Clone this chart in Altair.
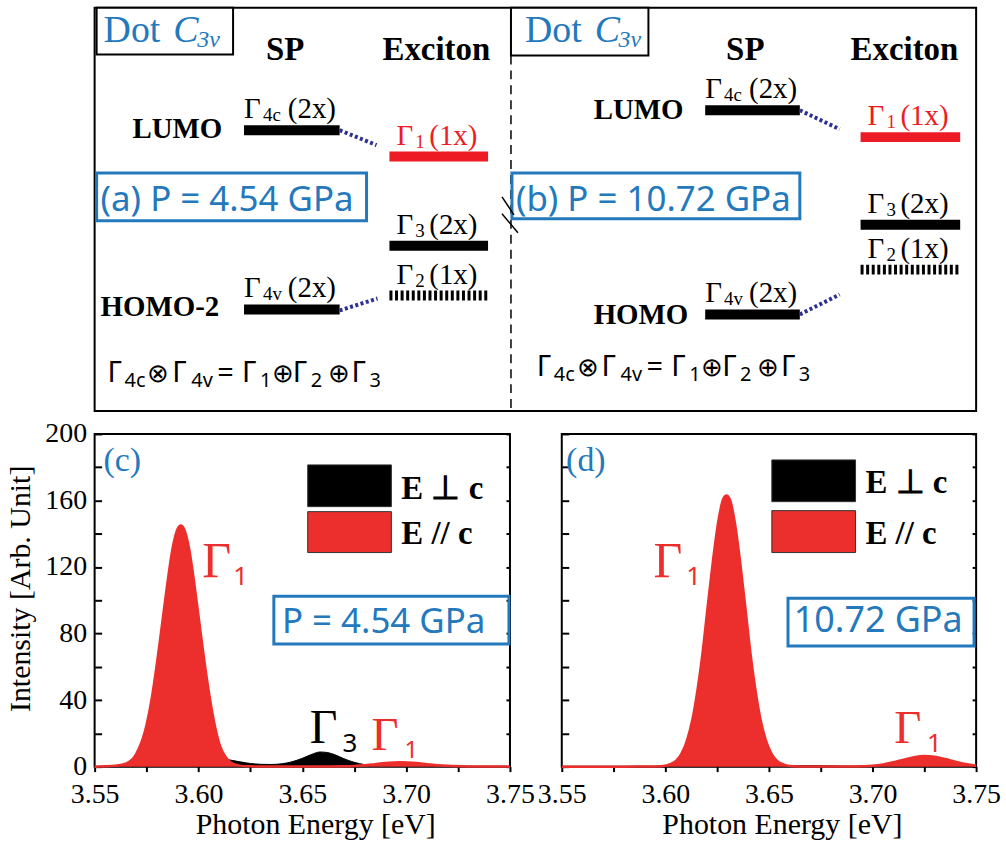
import altair as alt
import pandas as pd

SERIF = "Liberation Serif"
SANS = "Noto Sans"
BLUE = "#2479bd"
RED = "#ec2f2c"
DRED = "#ed1c24"
NAVY = "#2e3192"
INK = "black"

# ================= spectra =================
# (c) P = 4.54 GPa
c_par_E = [3.55, 3.555, 3.56, 3.565, 3.57, 3.575, 3.5775, 3.58, 3.5825, 3.585, 3.5875, 3.59, 3.5915,
           3.593, 3.5955, 3.598, 3.6005, 3.603, 3.6055, 3.608, 3.6105, 3.613, 3.6155, 3.62, 3.625, 3.63,
           3.64, 3.65, 3.66, 3.67, 3.675, 3.68, 3.685, 3.69, 3.697, 3.705, 3.71, 3.715, 3.72, 3.73, 3.74, 3.75]
c_par_I = [0, 0.2, 0.6, 1.8, 7.5, 25, 41, 62, 86, 110, 131, 143, 145,
           143, 131, 110, 86, 62, 41, 24, 12, 6, 2.5, 0.6, 0.2, 0.1,
           0.05, 0.05, 0.1, 0.2, 0.4, 0.8, 1.5, 2.2, 2.7, 2.2, 1.5, 0.9, 0.5, 0.15, 0.05, 0]
c_perp_E = [3.55, 3.57, 3.58, 3.59, 3.60, 3.605, 3.61, 3.613, 3.616, 3.62, 3.625, 3.63, 3.635, 3.64,
            3.645, 3.65, 3.655, 3.6585, 3.662, 3.666, 3.67, 3.675, 3.68, 3.685, 3.69, 3.70, 3.72, 3.75]
c_perp_I = [0, 0, 1, 3, 4.5, 5, 4.8, 4.4, 3.8, 2.9, 1.9, 1.4, 1.3, 1.7,
            2.9, 5.0, 7.6, 8.8, 8.5, 7.0, 4.8, 2.6, 1.2, 0.6, 0.3, 0.15, 0.05, 0]
# (d) P = 10.72 GPa
d_par_E = [3.55, 3.58, 3.59, 3.598, 3.603, 3.6055, 3.608, 3.6105, 3.613, 3.6155, 3.618, 3.6205, 3.623,
           3.6255, 3.628, 3.6295, 3.631, 3.6335, 3.636, 3.6385, 3.641, 3.6435, 3.646, 3.6485, 3.651,
           3.6535, 3.656, 3.661, 3.67, 3.68, 3.69, 3.695, 3.70, 3.705, 3.71, 3.715, 3.72, 3.725, 3.73,
           3.735, 3.74, 3.745, 3.75]
d_par_I = [0, 0, 0.05, 0.3, 1.8, 3.9, 8.3, 16, 28, 46, 69, 97, 124,
           147, 161, 163, 161, 147, 124, 97, 69, 46, 28, 16, 8.3,
           3.9, 1.8, 0.3, 0.1, 0.1, 0.1, 0.2, 0.5, 1.3, 2.6, 4.2, 5.7, 6.4, 5.9,
           4.6, 3.0, 1.6, 0.6]
d_perp_E = [3.55, 3.65, 3.66, 3.67, 3.68, 3.69, 3.75]
d_perp_I = [0, 0, 0.5, 0.6, 0.4, 0.1, 0]

x_ticks = [3.55, 3.575, 3.6, 3.625, 3.65, 3.675, 3.7, 3.725, 3.75]
x_labels = ["3.55", "3.60", "3.65", "3.70", "3.75"]
y_ticks = list(range(0, 201, 20))

# ================= schematic level diagram (a)/(b) =================
lev_x1 = [244, 390, 390, 390, 244, 707, 863, 863, 863, 707]
lev_x2 = [340, 489, 489, 489, 340, 802, 963, 963, 963, 802]
lev_y = [128, 154.5, 244, 294, 308, 108, 135, 223, 268, 313]
lev_kind = ["solid", "red", "solid", "hatch", "solid", "solid", "red", "solid", "hatch", "solid"]
lev_gx = [244, 397, 397, 397, 244, 707, 870, 870, 870, 707]
lev_sub = ["4c", "1", "3", "2", "4v", "4c", "1", "3", "2", "4v"]
lev_tail = ["(2x)", "(1x)", "(2x)", "(1x)", "(2x)", "(2x)", "(1x)", "(2x)", "(1x)", "(2x)"]

link_x1 = [340, 340, 802, 802]
link_y1 = [128, 309, 108, 313]
link_x2 = [377, 378, 842, 842]
link_y2 = [143, 297, 127, 293]

orb_names = ["LUMO", "HOMO-2", "LUMO", "HOMO"]
orb_x = [132, 100, 595, 595]
orb_y = [136, 315, 117, 323]
head_names = ["SP", "Exciton", "SP", "Exciton"]
head_x = [266, 383, 728, 853]

eq_pieces = ["Γ", "4c", "⊗", "Γ", "4v", "=", "Γ", "1", "⊕", "Γ", "2", "⊕", "Γ", "3"]
eq_dx = [0, 17, 40, 65, 84, 110, 135, 153, 165, 186, 204, 221, 245, 263]
eq_kind = ["m", "s", "o", "m", "s", "m", "m", "s", "o", "m", "s", "o", "m", "s"]
eq_x0 = [107, 538]
eq_y0 = [381, 375]

dot_x = [103, 526]
dot_box_x1 = [96, 512]
dot_box_x2 = [233, 650]
p_box_x1 = [96, 513]
p_box_x2 = [367, 802]
p_texts = ["(a) P = 4.54 GPa", "(b) P = 10.72 GPa"]

# ---------------- build diagram tables ----------------
XS = alt.Scale(domain=[94, 979], nice=False, zero=False)
YS = alt.Scale(domain=[5, 410], nice=False, zero=False, reverse=True)

serif_rows, bold_rows, ital_rows, sans_rows = [], [], [], []
for i in range(len(lev_gx)):
    col = DRED if lev_kind[i] == "red" else INK
    base = lev_y[i] - 12
    serif_rows.append((lev_gx[i], base, "Γ", 29, col))
    serif_rows.append((lev_gx[i] + 19, base + 3, lev_sub[i], 19, col))
    serif_rows.append((lev_gx[i] + (44 if len(lev_sub[i]) == 2 else 33), base, lev_tail[i], 29, col))
for k in range(4):
    bold_rows.append((orb_x[k], orb_y[k], orb_names[k], 29, INK))
    bold_rows.append((head_x[k], 58, head_names[k], 33, INK))
eq_size = {"m": 29, "s": 20, "o": 26}
eq_drop = {"m": 0, "s": 5, "o": 0}
for k in range(2):
    for p, dx, kd in zip(eq_pieces, eq_dx, eq_kind):
        sans_rows.append((eq_x0[k] + dx, eq_y0[k] + eq_drop[kd], p, eq_size[kd], INK))
    sans_rows.append((p_box_x1[k] + 4, 209, p_texts[k], 35, BLUE))
    serif_rows.append((dot_x[k], 39, "Dot", 38, BLUE))
    ital_rows.append((dot_x[k] + 70, 39, "C", 38, BLUE))
    ital_rows.append((dot_x[k] + 94, 45, "3v", 24, BLUE))


def tdf(rows):
    return pd.DataFrame(rows, columns=["x", "y", "t", "s", "c"])


def text_layer(df, font, weight="normal", style="normal", xs=XS, ys=YS):
    return alt.Chart(df).mark_text(font=font, fontWeight=weight, fontStyle=style,
                                   align="left", baseline="alphabetic").encode(
        x=alt.X("x:Q", scale=xs, axis=None),
        y=alt.Y("y:Q", scale=ys, axis=None),
        text="t:N",
        size=alt.Size("s:Q", scale=None),
        color=alt.Color("c:N", scale=None))


def seg_layer(df, **mk):
    return alt.Chart(df).mark_rule(**mk).encode(
        x=alt.X("x1:Q", scale=XS, axis=None), x2="x2:Q",
        y=alt.Y("y1:Q", scale=YS, axis=None), y2="y2:Q")


levels = pd.DataFrame({"x1": lev_x1, "x2": lev_x2, "y1": lev_y, "y2": lev_y, "kind": lev_kind})
lev_solid = alt.Chart(levels).transform_filter("datum.kind != 'hatch'").transform_calculate(
    c=f"datum.kind == 'red' ? '{DRED}' : '{INK}'").mark_rule(strokeWidth=10).encode(
    x=alt.X("x1:Q", scale=XS, axis=None), x2="x2:Q",
    y=alt.Y("y1:Q", scale=YS, axis=None), color=alt.Color("c:N", scale=None))
lev_hatch = alt.Chart(levels).transform_filter("datum.kind == 'hatch'").mark_rule(
    strokeWidth=10, strokeDash=[3, 2.6], color=INK).encode(
    x=alt.X("x1:Q", scale=XS, axis=None), x2="x2:Q", y=alt.Y("y1:Q", scale=YS, axis=None))

links = seg_layer(pd.DataFrame({"x1": link_x1, "y1": link_y1, "x2": link_x2, "y2": link_y2}),
                  strokeWidth=4, strokeDash=[3, 2.5], color=NAVY)
divider = seg_layer(pd.DataFrame({"x1": [512], "y1": [53], "x2": [512], "y2": [410]}),
                    strokeWidth=1.5, strokeDash=[9, 6], color=INK)
breaks = seg_layer(pd.DataFrame({"x1": [503, 503], "y1": [195, 212], "x2": [515, 519], "y2": [213, 231]}),
                   strokeWidth=1.5, color=INK)

dot_boxes = alt.Chart(pd.DataFrame({"x1": dot_box_x1, "x2": dot_box_x2, "y1": [5, 5], "y2": [52, 53]})).mark_rect(
    fill="white", stroke=INK, strokeWidth=2).encode(
    x=alt.X("x1:Q", scale=XS, axis=None), x2="x2:Q", y=alt.Y("y1:Q", scale=YS, axis=None), y2="y2:Q")
p_boxes = alt.Chart(pd.DataFrame({"x1": p_box_x1, "x2": p_box_x2, "y1": [171, 171], "y2": [219, 217]})).mark_rect(
    fill="white", stroke=BLUE, strokeWidth=3).encode(
    x=alt.X("x1:Q", scale=XS, axis=None), x2="x2:Q", y=alt.Y("y1:Q", scale=YS, axis=None), y2="y2:Q")

top = alt.layer(
    divider, dot_boxes, p_boxes, breaks, lev_solid, lev_hatch, links,
    text_layer(tdf(serif_rows), SERIF),
    text_layer(tdf(bold_rows), SERIF, weight="bold"),
    text_layer(tdf(ital_rows), SERIF, style="italic"),
    text_layer(tdf(sans_rows), SANS),
).properties(width=885, height=405, view=alt.ViewBackground(stroke=INK, strokeWidth=2))

# ================= spectra panels =================
EX = alt.Scale(domain=[3.55, 3.75], nice=False, zero=False)
IY = alt.Scale(domain=[0, 200], nice=False, zero=False)

label_expr_x = "indexof(" + str(x_labels) + ", format(datum.value, '.2f')) >= 0 ? format(datum.value, '.2f') : ''"


def panel(par_E, par_I, perp_E, perp_I, ann_serif, ann_sans, ann_bold, leg, box, first, w):
    x_axis = alt.Axis(values=x_ticks, labelExpr=label_expr_x, tickSize=5, tickWidth=2, tickColor=INK,
                      domain=False, grid=False, labelFlush=False, labelOverlap=False, labelPadding=9,
                      labelFont=SERIF, labelFontSize=28, labelColor=INK,
                      title="Photon Energy [eV]", titleFont=SERIF, titleFontSize=30, titleFontWeight="normal",
                      titleColor=INK, titlePadding=1, titleX=w / 2 + 13)
    if first:
        y_axis = alt.Axis(values=y_ticks, labelExpr="datum.value % 40 == 0 ? datum.label : ''",
                          offset=-7, tickSize=7, tickWidth=2, tickColor=INK, domain=False, grid=False,
                          labelPadding=8, labelFont=SERIF, labelFontSize=28, labelColor=INK,
                          title="Intensity [Arb. Unit]", titleFont=SERIF, titleFontSize=30,
                          titleFontWeight="normal", titleColor=INK, titlePadding=9, titleY=155)
    else:
        y_axis = alt.Axis(values=y_ticks, labels=False, offset=-7, tickSize=7, tickWidth=2, tickColor=INK,
                          domain=False, grid=False, title=None)
    y_right = alt.Axis(orient="right", values=y_ticks, labels=False, offset=-4, tickSize=4, tickWidth=2,
                       tickColor=INK, domain=False, grid=False, title=None)

    black = alt.Chart(pd.DataFrame({"E": perp_E, "I": perp_I})).mark_area(
        color=INK, fillOpacity=1, interpolate="monotone", line={"color": INK, "strokeWidth": 1}).encode(
        x=alt.X("E:Q", scale=EX, axis=x_axis), y=alt.Y("I:Q", scale=IY, axis=y_axis))
    red = alt.Chart(pd.DataFrame({"E": par_E, "I": par_I})).mark_area(
        color=RED, fillOpacity=1, interpolate="monotone", line={"color": RED, "strokeWidth": 2.5}).encode(
        x=alt.X("E:Q", scale=EX, axis=None), y=alt.Y("I:Q", scale=IY, axis=y_right))

    rects = alt.Chart(pd.DataFrame(leg, columns=["x1", "x2", "y1", "y2", "c"])).mark_rect(
        stroke="#333333", strokeWidth=1).encode(
        x=alt.X("x1:Q", scale=EX, axis=None), x2="x2:Q",
        y=alt.Y("y1:Q", scale=IY, axis=None), y2="y2:Q", color=alt.Color("c:N", scale=None))
    pbox = alt.Chart(pd.DataFrame([box], columns=["x1", "x2", "y1", "y2"])).mark_rect(
        fillOpacity=0, stroke=BLUE, strokeWidth=3).encode(
        x=alt.X("x1:Q", scale=EX, axis=None), x2="x2:Q",
        y=alt.Y("y1:Q", scale=IY, axis=None), y2="y2:Q")

    return alt.layer(
        black, red, rects, pbox,
        text_layer(tdf(ann_serif), SERIF, xs=EX, ys=IY),
        text_layer(tdf(ann_sans), SANS, xs=EX, ys=IY),
        text_layer(tdf(ann_bold), SERIF, weight="bold", xs=EX, ys=IY),
    ).resolve_axis(x="independent", y="independent").properties(
        width=w, height=334, view=alt.ViewBackground(stroke=INK, strokeWidth=2))


pc = panel(
    c_par_E, c_par_I, c_perp_E, c_perp_I,
    ann_serif=[(3.5543, 178, "(c)", 34, BLUE), (3.6018, 114, "Γ", 50, RED),
               (3.6536, 14.4, "Γ", 48, INK), (3.6833, 10.2, "Γ", 47, RED)],
    ann_sans=[(3.6167, 109, "1", 26, RED), (3.6694, 9, "3", 26, INK), (3.6992, 5.4, "1", 24, RED),
              (3.6402, 80.2, "P = 4.54 GPa", 35, BLUE)],
    ann_bold=[(3.6977, 161, "E ⊥ c", 33, INK), (3.6977, 134, "E // c", 33, INK)],
    leg=[(3.6526, 3.6929, 181.4, 156.3, INK), (3.6526, 3.6929, 153.3, 128.7, RED)],
    box=(3.6363, 3.7495, 102.4, 73.7), first=True, w=417)

pd_ = panel(
    d_par_E, d_par_I, d_perp_E, d_perp_I,
    ann_serif=[(3.5521, 178, "(d)", 34, BLUE), (3.5943, 114, "Γ", 50, RED), (3.7105, 14.4, "Γ", 47, RED)],
    ann_sans=[(3.6101, 109, "1", 26, RED), (3.7263, 9, "1", 26, RED), (3.6620, 80.8, "10.72 GPa", 36, BLUE)],
    ann_bold=[(3.6966, 164.7, "E ⊥ c", 33, INK), (3.6966, 134.1, "E // c", 33, INK)],
    leg=[(3.6514, 3.6918, 184.4, 159.3, INK), (3.6514, 3.6918, 153.9, 128.7, RED)],
    box=(3.6592, 3.7490, 101.2, 72.5), first=False, w=416)

bottom = alt.hconcat(pc, pd_, spacing=52, bounds="flush")
chart = alt.vconcat(top, bottom, spacing=23, bounds="flush").properties(
    padding={"left": 4, "top": 4, "right": 4, "bottom": 4}
).configure(background="white")

chart.save("out.html", embed_options={"renderer": "svg", "actions": False})
